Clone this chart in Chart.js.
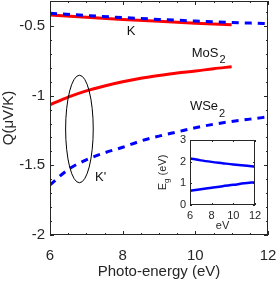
<!DOCTYPE html>
<html>
<head>
<meta charset="utf-8">
<script src="https://cdn.jsdelivr.net/npm/chart.js@4.4.1/dist/chart.umd.min.js"></script>
<style>
  html, body { margin: 0; padding: 0; background: #fff; }
  #wrap { position: relative; width: 279px; height: 283px; }
  #mainChart { position: absolute; left: 0; top: 0; }
  #insetChart { position: absolute; left: 150px; top: 130px; }
</style>
</head>
<body>
<div id="wrap">
  <canvas id="mainChart" width="279" height="283"></canvas>
  <canvas id="insetChart" width="112" height="103"></canvas>
</div>
<script>
// --- main panel data (thermopower Q vs photon energy) ---
const energyK = [6, 7, 8, 9, 10, 11, 12];
const mos2K = [-0.42, -0.437, -0.452, -0.466, -0.479, -0.49];
const wse2K = [-0.408, -0.424, -0.439, -0.452, -0.464, -0.474, -0.483];

const energyKp = [6, 6.5, 7, 7.5, 8, 8.5, 9, 9.5, 10, 10.5, 11, 11.5, 12];
const mos2Kp = [-1.065, -1.01, -0.965, -0.93, -0.9, -0.875, -0.855, -0.837, -0.823, -0.806, -0.792];
const wse2Kp = [-1.64, -1.53, -1.46, -1.41, -1.37, -1.325, -1.29, -1.26, -1.23, -1.205, -1.185, -1.168, -1.152];

const xTicks = [6, 8, 10, 12];
const yTicks = [-2, -1.5, -1, -0.5];
const yTickLabels = ["-2", "-1.5", "-1", "-0.5"];

// --- inset data (band gap) ---
const gapEnergy = [6, 7, 8, 9, 10, 11, 12];
const gapUpper = [2.15, 2.06, 1.99, 1.93, 1.87, 1.82, 1.78];
const gapLower = [0.66, 0.73, 0.8, 0.87, 0.93, 1.0, 1.05];
const insetXTicks = [6, 8, 10, 12];
const insetYTicks = [0, 1, 2, 3];

const FONT = "'Liberation Sans', Arial, Helvetica, sans-serif";
const INK = "#262626";
const RED = "#ff0000";
const BLUE = "#0000ff";

function pts(xs, ys) {
  return ys.map((v, i) => ({ x: xs[i], y: v }));
}

// stop tick labels from pushing the plot area in
function noPad(s) {
  s.paddingTop = 0; s.paddingBottom = 0; s.paddingLeft = 0; s.paddingRight = 0;
}

function frameAndTicks(chart, opts) {
  const { ctx, chartArea: a, scales: { x, y } } = chart;
  ctx.save();
  ctx.strokeStyle = INK;
  ctx.lineWidth = 1;
  ctx.beginPath();
  const addX = (v, len) => {
    const px = Math.round(x.getPixelForValue(v)) + 0.5;
    ctx.moveTo(px, a.bottom); ctx.lineTo(px, a.bottom - len);
    ctx.moveTo(px, a.top); ctx.lineTo(px, a.top + len);
  };
  const addY = (v, len) => {
    const py = Math.round(y.getPixelForValue(v)) + 0.5;
    ctx.moveTo(a.left, py); ctx.lineTo(a.left + len, py);
    ctx.moveTo(a.right, py); ctx.lineTo(a.right - len, py);
  };
  opts.xMajor.forEach(v => addX(v, opts.major));
  opts.yMajor.forEach(v => addY(v, opts.major));
  if (opts.xStep) {
    for (let v = x.min; v <= x.max + 1e-9; v += opts.xStep) addX(v, opts.minor);
  }
  if (opts.yStep) {
    for (let v = y.min; v <= y.max + 1e-9; v += opts.yStep) addY(v, opts.minor);
  }
  ctx.stroke();
  ctx.strokeRect(Math.round(a.left) + 0.5, Math.round(a.top) + 0.5,
    Math.round(a.right - a.left) - 1, Math.round(a.bottom - a.top) - 1);
  ctx.restore();
}

function subText(ctx, base, sub, px, py, size, subSize, shift) {
  ctx.font = size + "px " + FONT;
  ctx.textAlign = "left";
  ctx.textBaseline = "middle";
  ctx.fillText(base, px, py);
  const w = ctx.measureText(base).width;
  ctx.font = subSize + "px " + FONT;
  ctx.fillText(sub, px + w + 1, py + shift);
}

const mainDecor = {
  id: "mainDecor",
  afterDraw(chart) {
    const { ctx, scales: { x, y } } = chart;
    frameAndTicks(chart, { xMajor: xTicks, yMajor: yTicks, xStep: 0.5, yStep: 0.1, major: 4, minor: 2 });

    // ellipse marking the K' region
    const cx = x.getPixelForValue(6.81), cy = y.getPixelForValue(-1.239);
    const rx = Math.abs(x.getPixelForValue(6.81 + 0.38) - cx);
    const ry = Math.abs(y.getPixelForValue(-1.239 + 0.386) - cy);
    ctx.save();
    ctx.strokeStyle = "#000";
    ctx.lineWidth = 1;
    ctx.beginPath();
    ctx.ellipse(cx, cy, rx, ry, 0, 0, Math.PI * 2);
    ctx.stroke();

    ctx.fillStyle = "#111";
    ctx.font = "13px " + FONT;
    ctx.textAlign = "center";
    ctx.textBaseline = "middle";
    ctx.fillText("K", x.getPixelForValue(8.23), y.getPixelForValue(-0.536));
    ctx.textAlign = "left";
    ctx.fillText("K'", x.getPixelForValue(7.24), y.getPixelForValue(-1.587));
    subText(ctx, "MoS", "2", x.getPixelForValue(9.9), y.getPixelForValue(-0.696), 13, 11, 7);
    subText(ctx, "WSe", "2", x.getPixelForValue(9.85), y.getPixelForValue(-1.08), 13, 11, 7);
    ctx.restore();
  }
};

const insetDecor = {
  id: "insetDecor",
  beforeDraw(chart) {
    const { ctx, chartArea: a } = chart;
    ctx.save();
    ctx.fillStyle = "#fff";
    ctx.fillRect(a.left, a.top, a.right - a.left, a.bottom - a.top);
    ctx.restore();
  },
  afterDraw(chart) {
    const { ctx, chartArea: a } = chart;
    frameAndTicks(chart, { xMajor: insetXTicks, yMajor: insetYTicks, major: 2, minor: 0 });
    ctx.save();
    ctx.fillStyle = INK;
    ctx.translate(13, (a.top + a.bottom) / 2);
    ctx.rotate(-Math.PI / 2);
    const parts = [["E", 11, 0], ["g", 8, 4], [" (eV)", 11, 0]];
    let total = 0;
    parts.forEach(p => { ctx.font = p[1] + "px " + FONT; total += ctx.measureText(p[0]).width; });
    let cur = -total / 2;
    ctx.textBaseline = "middle";
    ctx.textAlign = "left";
    parts.forEach(p => {
      ctx.font = p[1] + "px " + FONT;
      ctx.fillText(p[0], cur, p[2]);
      cur += ctx.measureText(p[0]).width;
    });
    ctx.restore();
  }
};

new Chart(document.getElementById("mainChart"), {
  type: "line",
  data: {
    datasets: [
      { data: pts(energyK, wse2K), borderColor: BLUE, borderWidth: 3, borderDash: [7, 6] },
      { data: pts(energyKp, wse2Kp), borderColor: BLUE, borderWidth: 3, borderDash: [7, 6] },
      { data: pts(energyK, mos2K), borderColor: RED, borderWidth: 3 },
      { data: pts(energyKp, mos2Kp), borderColor: RED, borderWidth: 3 }
    ]
  },
  options: {
    responsive: false,
    animation: false,
    devicePixelRatio: 1,
    layout: { padding: { left: 0, right: 11, top: 1, bottom: 0 } },
    elements: {
      point: { radius: 0 },
      line: { cubicInterpolationMode: "monotone", fill: false, borderCapStyle: "butt" }
    },
    plugins: { legend: { display: false }, tooltip: { enabled: false } },
    scales: {
      x: {
        type: "linear",
        min: 6,
        max: 12,
        afterBuildTicks: s => { s.ticks = xTicks.map(v => ({ value: v })); },
        afterFit: s => { s.height = 48; noPad(s); },
        grid: { display: false, drawTicks: false },
        border: { display: false },
        ticks: { color: INK, font: { family: FONT, size: 15 }, padding: 12, maxRotation: 0 },
        title: { display: true, text: "Photo-energy (eV)", color: INK, font: { family: FONT, size: 15 }, padding: { top: 2, bottom: 2 } }
      },
      y: {
        type: "linear",
        min: -2,
        max: -0.32,
        afterBuildTicks: s => { s.ticks = yTicks.map(v => ({ value: v })); },
        afterFit: s => { s.width = 50; noPad(s); },
        grid: { display: false, drawTicks: false },
        border: { display: false },
        ticks: {
          color: INK,
          font: { family: FONT, size: 15 },
          padding: 5,
          callback: v => yTickLabels[yTicks.indexOf(v)]
        },
        title: { display: true, text: "Q(μV/K)", color: INK, font: { family: FONT, size: 15 }, padding: { top: 0, bottom: 0 } }
      }
    }
  },
  plugins: [mainDecor]
});

new Chart(document.getElementById("insetChart"), {
  type: "line",
  data: {
    datasets: [
      { data: pts(gapEnergy, gapUpper), borderColor: BLUE, borderWidth: 2.5 },
      { data: pts(gapEnergy, gapLower), borderColor: BLUE, borderWidth: 2.5 }
    ]
  },
  options: {
    responsive: false,
    animation: false,
    devicePixelRatio: 1,
    layout: { padding: { left: 0, right: 7, top: 10, bottom: 0 } },
    elements: {
      point: { radius: 0 },
      line: { cubicInterpolationMode: "monotone", fill: false }
    },
    plugins: { legend: { display: false }, tooltip: { enabled: false } },
    scales: {
      x: {
        type: "linear",
        min: 6,
        max: 12,
        afterBuildTicks: s => { s.ticks = insetXTicks.map(v => ({ value: v })); },
        afterFit: s => { s.height = 28; noPad(s); },
        grid: { display: false, drawTicks: false },
        border: { display: false },
        ticks: { color: INK, font: { family: FONT, size: 11 }, padding: 4, maxRotation: 0 },
        title: { display: true, text: "eV", color: INK, font: { family: FONT, size: 11 }, padding: { top: 0, bottom: 0 } }
      },
      y: {
        type: "linear",
        min: 0,
        max: 3,
        afterBuildTicks: s => { s.ticks = insetYTicks.map(v => ({ value: v })); },
        afterFit: s => { s.width = 40; noPad(s); },
        grid: { display: false, drawTicks: false },
        border: { display: false },
        ticks: { color: INK, font: { family: FONT, size: 11 }, padding: 4 }
      }
    }
  },
  plugins: [insetDecor]
});
</script>
</body>
</html>
